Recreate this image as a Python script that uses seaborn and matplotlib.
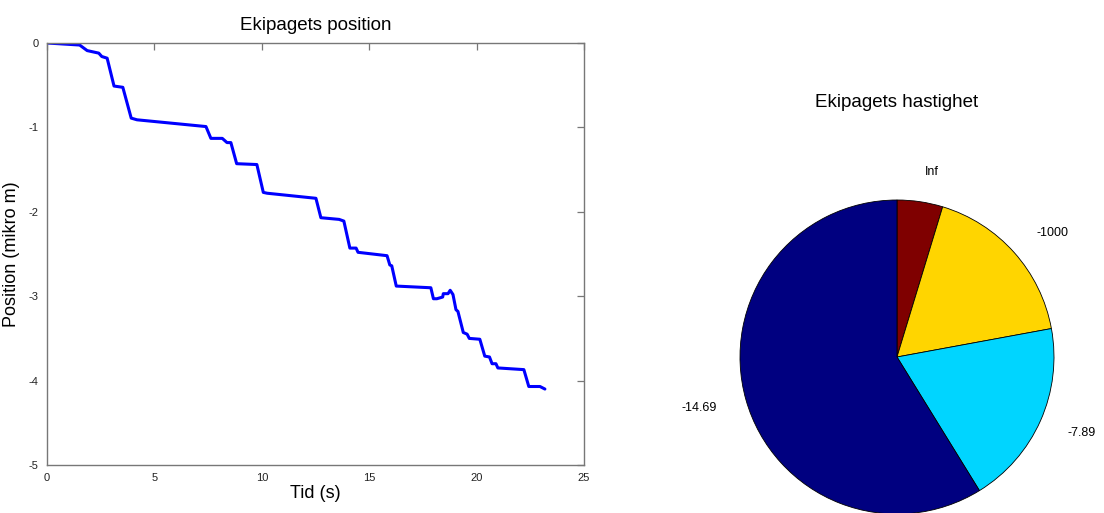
from matplotlib import pyplot as plt
import seaborn as sns
import pandas as pd

sns.set_theme(style="white")
plt.rcParams['font.family'] = ['Liberation Sans', 'DejaVu Sans']
plt.rcParams['axes.unicode_minus'] = False
plt.rcParams['text.color'] = 'black'
plt.rcParams['axes.labelcolor'] = 'black'
plt.rcParams['xtick.color'] = '#777777'
plt.rcParams['ytick.color'] = '#777777'
plt.rcParams['xtick.labelcolor'] = '#222222'
plt.rcParams['ytick.labelcolor'] = '#222222'

# Data: position over time
tid = [0.0, 1.52, 1.87, 2.41, 2.55, 2.80, 3.12, 3.53, 3.92, 4.19, 7.40, 7.63,
       8.16, 8.38, 8.56, 8.83, 9.77, 10.07, 10.25, 12.52, 12.75, 13.60, 13.82,
       14.10, 14.39, 14.48, 15.83, 15.96, 16.05, 16.26, 17.87, 17.99, 18.15,
       18.42, 18.45, 18.67, 18.77, 18.90, 19.04, 19.13, 19.38, 19.56, 19.66,
       20.15, 20.38, 20.60, 20.72, 20.90, 20.99, 22.20, 22.43, 22.95, 23.18]
position = [0.0, -0.024, -0.09, -0.12, -0.16, -0.18, -0.51, -0.525, -0.89, -0.91,
            -0.99, -1.13, -1.13, -1.18, -1.18, -1.43, -1.44, -1.77, -1.78, -1.84,
            -2.07, -2.09, -2.11, -2.43, -2.43, -2.48, -2.52, -2.63, -2.64, -2.88,
            -2.90, -3.03, -3.03, -3.01, -2.97, -2.97, -2.93, -2.98, -3.16, -3.18,
            -3.43, -3.45, -3.50, -3.51, -3.71, -3.72, -3.80, -3.80, -3.85, -3.87,
            -4.07, -4.07, -4.10]

# Data: speed distribution (pie)
hastighet_labels = ['Inf', '-1000', '-7.89', '-14.69']
hastighet_andel = [4.7, 17.4, 19.1, 58.8]
pie_colors = ['#7f0000', '#ffd500', '#00d5ff', '#000080']

df = pd.DataFrame({'Tid': tid, 'Position': position})

W, H = 1104, 513
fig = plt.figure(figsize=(W / 100, H / 100), dpi=100)

# Left: line plot
ax1 = fig.add_axes([47 / W, (H - 465) / H, (584 - 47) / W, (465 - 43) / H])
sns.lineplot(data=df, x='Tid', y='Position', color='#0000ff', linewidth=2.2, ax=ax1)
ax1.set_xlim(0, 25)
ax1.set_ylim(-5, 0)
ax1.set_xticks([0, 5, 10, 15, 20, 25])
ax1.set_yticks([0, -1, -2, -3, -4, -5])
ax1.tick_params(direction='in', length=5, width=0.9,
                labelsize=8, top=True, right=True, pad=6)
for s in ax1.spines.values():
    s.set_color('#777777')
    s.set_linewidth(1.0)
ax1.set_title('Ekipagets position', fontsize=13.5, pad=9)
ax1.set_xlabel('Tid (s)', fontsize=13, labelpad=1)
ax1.set_ylabel('Position (mikro m)', fontsize=13, labelpad=6)

# Right: pie chart
cx, cy, r = 897, 357, 157
lim = 1.05
side = 2 * lim * r
ax2 = fig.add_axes([(cx - side / 2) / W, (H - cy - side / 2) / H, side / W, side / H])
ax2.pie(hastighet_andel, labels=hastighet_labels, colors=pie_colors,
        startangle=90, counterclock=False, labeldistance=1.19,
        wedgeprops={'edgecolor': 'black', 'linewidth': 0.6},
        textprops={'fontsize': 9})
ax2.set_xlim(-lim, lim)
ax2.set_ylim(-lim, lim)
fig.text(cx / W, 1 - 103 / H, 'Ekipagets hastighet', fontsize=13.5,
         ha='center', va='center')

plt.savefig('out.png', dpi=100)
